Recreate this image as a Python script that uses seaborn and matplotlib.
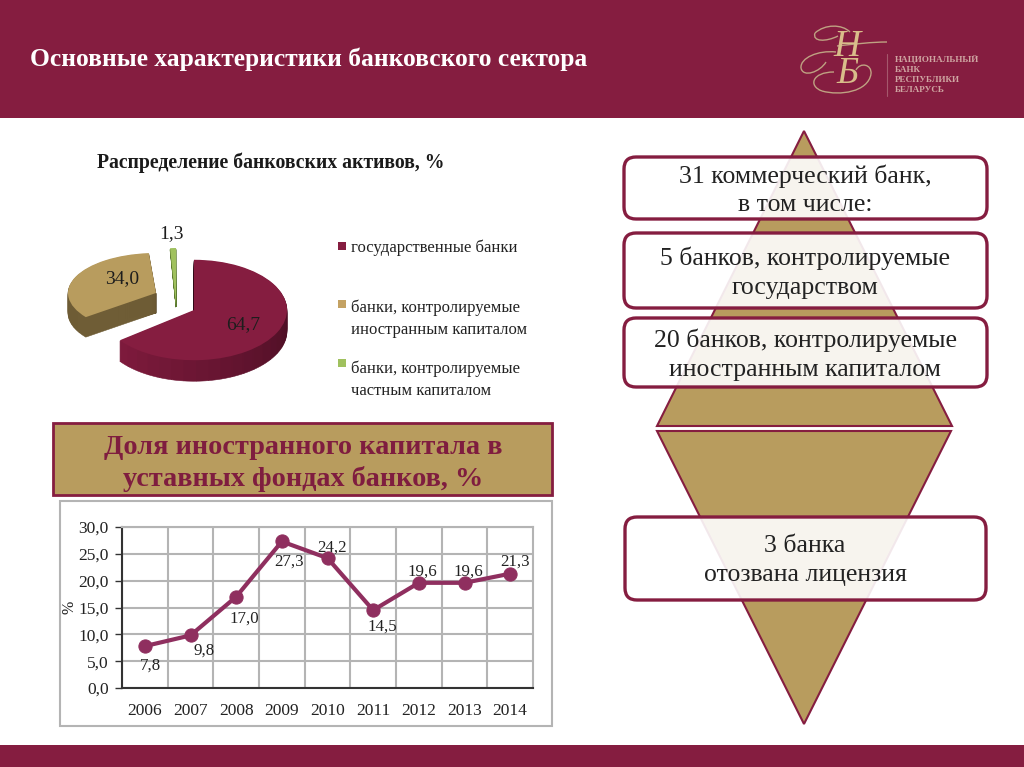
import numpy as np
import pandas as pd
import matplotlib.pyplot as plt
import matplotlib.colors as mcolors
from matplotlib.patches import Rectangle, Polygon, FancyBboxPatch, PathPatch
from matplotlib.path import Path
from matplotlib.ticker import FuncFormatter
import seaborn as sns

# data
years = ['2006', '2007', '2008', '2009', '2010', '2011', '2012', '2013', '2014']
foreign_share = [7.8, 9.8, 17.0, 27.3, 24.2, 14.5, 19.6, 19.6, 21.3]
asset_shares = [64.7, 34.0, 1.3]
asset_labels = ['64,7', '34,0', '1,3']
legend_labels = ['государственные банки',
                 'банки, контролируемые\nиностранным капиталом',
                 'банки, контролируемые\nчастным капиталом']

MAROON = '#851d40'
TAN = '#b89c5e'
GREEN = '#a0c15e'

sns.set_theme(style="white")
plt.rcParams['font.family'] = ['Liberation Serif', 'DejaVu Serif']

fig = plt.figure(figsize=(10.24, 7.67), dpi=100, facecolor='white')

# full page layer in pixel coords
page = fig.add_axes([0, 0, 1, 1], zorder=0)
page.set_xlim(0, 1024)
page.set_ylim(767, 0)
page.axis('off')

page.add_patch(Rectangle((0, 0), 1024, 118, fc=MAROON, ec='none'))
page.add_patch(Rectangle((0, 745), 1024, 22, fc=MAROON, ec='none'))
page.text(30, 59, 'Основные характеристики банковского сектора', color='white',
          fontsize=18.4, fontweight='bold', va='center')

# logo
page.text(847, 60, 'Н\nБ', color='#d9bd8a', fontsize=27, style='italic', ha='center', va='center',
          linespacing=0.72)
curls = [
    [(815, 33), (825, 24), (842, 24), (850, 32)],
    [(837, 46), (855, 44), (872, 42), (887, 42)],
    [(836, 52), (818, 50), (800, 58), (801, 68)],
    [(801, 68), (803, 78), (820, 72), (826, 62)],
    [(834, 72), (812, 72), (808, 86), (822, 91)],
    [(822, 91), (840, 96), (868, 92), (871, 74)],
    [(871, 74), (872, 64), (860, 62), (856, 70)],
    [(815, 33), (812, 42), (826, 42), (838, 36)],
]
for c in curls:
    path = Path(c, [Path.MOVETO, Path.CURVE4, Path.CURVE4, Path.CURVE4])
    page.add_patch(PathPatch(path, fc='none', ec='#bfa282', lw=1))
page.plot([887, 887], [54, 96], color='#a5586c', lw=0.8)
for txt, y in zip(['НАЦИОНАЛЬНЫЙ', 'БАНК', 'РЕСПУБЛИКИ', 'БЕЛАРУСЬ'], [59, 70, 80, 90]):
    page.text(895, y, txt, color='#cfa5a2', fontsize=6.6, fontweight='bold', va='center')

# pyramid
page.add_patch(Polygon([(804, 131), (952, 426), (657, 426)], fc=TAN, ec=MAROON, lw=1.5))
page.add_patch(Polygon([(657, 431), (951, 431), (804, 724)], fc=TAN, ec=MAROON, lw=1.5))

boxes = [(624, 157, 363, 62), (624, 233, 363, 75), (624, 318, 363, 69), (625, 517, 361, 83)]
box_text = [('31 коммерческий банк,', 'в том числе:', 176, 205),
            ('5 банков, контролируемые', 'государством', 258, 288),
            ('20 банков, контролируемые', 'иностранным капиталом', 340, 370),
            ('3 банка', 'отозвана лицензия', 546, 575)]
for (x, y, w, h), (l1, l2, y1, y2) in zip(boxes, box_text):
    page.add_patch(FancyBboxPatch((x + 10, y + 10), w - 20, h - 20,
                                  boxstyle='round,pad=10,rounding_size=12',
                                  fc=(1, 1, 1, 0.9), ec=MAROON, lw=2.4))
    page.text(805, y1, l1, color='#222222', fontsize=18.5, ha='center', va='center')
    page.text(805, y2, l2, color='#222222', fontsize=18.5, ha='center', va='center')

# pie heading and legend
page.text(97, 163, 'Распределение банковских активов, %', color='#1a1a1a',
          fontsize=14.2, fontweight='bold', va='center')
for lab, col, sy, ty in zip(legend_labels, [MAROON, '#c4a263', GREEN], [242, 300, 359], [248, 319, 380]):
    page.add_patch(Rectangle((338, sy), 8, 8, fc=col, ec='none'))
    page.text(351, ty, lab, color='#222222', fontsize=12, va='center', linespacing=1.5)

# banner
page.add_patch(Rectangle((53, 423), 499, 72, fc=TAN, ec=MAROON, lw=2))
page.text(303, 447, 'Доля иностранного капитала в', color='#7f1d3f', fontsize=20.3,
          fontweight='bold', ha='center', va='center')
page.text(303, 479, 'уставных фондах банков, %', color='#7f1d3f',
          fontsize=20.3, fontweight='bold', ha='center', va='center')

# line chart panel
page.add_patch(Rectangle((60, 501), 492, 225, fc='white', ec='#b4b4b4', lw=1.5))


def px_axes(left, top, right, bottom, z):
    return fig.add_axes([left / 1024, 1 - bottom / 767, (right - left) / 1024, (bottom - top) / 767], zorder=z)


ax = px_axes(122, 527, 533, 688, 2)
ax.patch.set_alpha(0)
sns.lineplot(x=years, y=foreign_share, ax=ax, color='#8f2f5f', linewidth=3, marker='o',
             markersize=9.5, markeredgecolor='#8f2f5f', errorbar=None)
ax.set_xlim(-0.5, 8.5)
ax.set_ylim(0, 30)
ax.set_yticks(np.arange(0, 31, 5))
ax.yaxis.set_major_formatter(FuncFormatter(lambda v, p: f'{v:.1f}'.replace('.', ',')))
ax.set_xticks(np.arange(9) - 0.5, minor=True)
ax.grid(False)
ax.grid(True, which='minor', axis='x', color='#b4b4b4', lw=1.5)
ax.grid(True, which='major', axis='y', color='#b4b4b4', lw=1.5)
ax.set_axisbelow(True)
ax.tick_params(axis='x', which='both', length=0, labelsize=12.5, pad=11, labelcolor='#222222')
ax.tick_params(axis='y', which='major', length=5, width=1, labelsize=12.5, pad=4.5,
               left=True, labelcolor='#222222', color='#333333')
for side in ['top', 'right']:
    ax.spines[side].set_color('#b4b4b4')
    ax.spines[side].set_linewidth(1.5)
for side in ['left', 'bottom']:
    ax.spines[side].set_color('#333333')
    ax.spines[side].set_linewidth(1.5)
ax.set_ylabel('%', fontsize=11.5, color='#222222')
ax.yaxis.set_label_coords(-0.108, 0.5)

# label offsets in px: below, below, below, below, above ...
offsets = [(6, -20), (14, -15), (8, -22), (7, -20), (5, 10), (9, -16), (4, 11), (4, 11), (5, 12)]
for i, (val, off) in enumerate(zip(foreign_share, offsets)):
    ax.annotate(f'{val:.1f}'.replace('.', ','), (i, val), xytext=(off[0] * 0.72, off[1] * 0.72),
                textcoords='offset points', ha='center', va='center', fontsize=12.2, color='#222222')


# 3d pie, each slice has its own centre and flattening
def draw_slice(idx, cx, cy, r, squash, depth, top_col, side_from, side_to, z):
    pa = fig.add_axes([0, 0, 1, 1], zorder=z)
    cm = mcolors.LinearSegmentedColormap.from_list('side', [side_from, side_to])
    n_parts = 30
    center = (cx, (767 - cy) / squash)
    parts = []
    part_cols = []
    for j, v in enumerate(asset_shares):
        if j == idx:
            parts += [v / n_parts] * n_parts
            part_cols += [cm(k / (n_parts - 1)) for k in range(n_parts)]
        else:
            parts.append(v)
            part_cols.append('none')
    for d in np.arange(depth, 0, -1):
        wedges, _ = pa.pie(parts, startangle=90, counterclock=False, colors=part_cols, radius=r,
                           center=(cx, (767 - cy - d) / squash), frame=False)
        for w, c in zip(wedges, part_cols):
            if c == 'none':
                w.set_visible(False)
            else:
                w.set_edgecolor(c)
                w.set_linewidth(0.4)
    wedges, _ = pa.pie(asset_shares, startangle=90, counterclock=False, radius=r, center=center,
                       colors=[top_col] * 3, frame=False, wedgeprops=dict(linewidth=0))
    for j, w in enumerate(wedges):
        w.set_visible(j == idx)
    pa.set_aspect('auto')
    pa.set_xlim(0, 1024)
    pa.set_ylim(0, 767 / squash)
    pa.axis('off')


draw_slice(0, 194, 310, 93, 0.54, 21, MAROON, '#2f0816', '#7d1a3c', 1)
draw_slice(1, 156, 293, 88, 0.455, 20, TAN, '#6f5d36', '#6a5731', 1.1)
draw_slice(2, 176, 305, 73, 0.78, 2, GREEN, '#5c7a30', '#5c7a30', 1.2)

top = fig.add_axes([0, 0, 1, 1], zorder=3)
top.set_xlim(0, 1024)
top.set_ylim(767, 0)
top.axis('off')
for lab, x, y in zip(asset_labels, [243, 122, 171], [325, 279, 234]):
    top.text(x, y, lab, color='#1d1d1d', fontsize=14, ha='center', va='center')

fig.savefig('out.png', dpi=100)
plt.close()
